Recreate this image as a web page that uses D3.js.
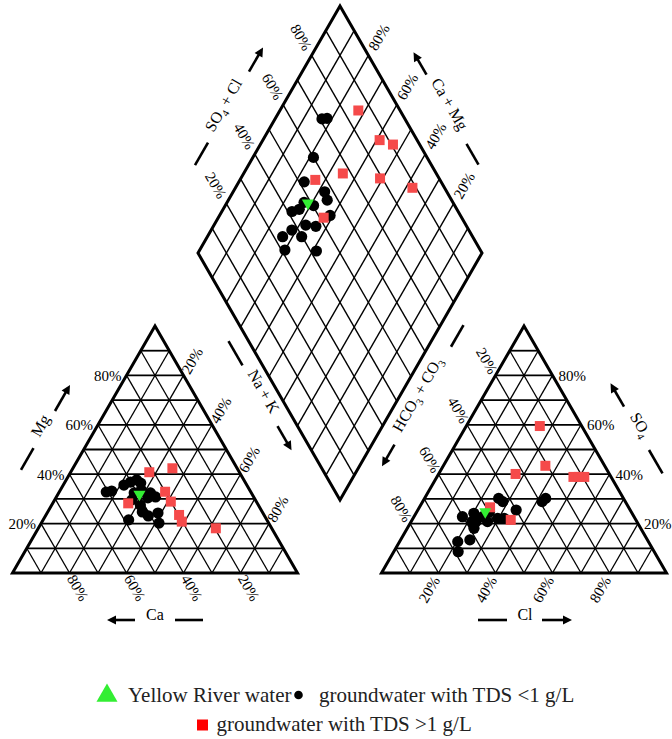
<!DOCTYPE html>
<html>
<head>
<meta charset="utf-8">
<script src="https://cdn.jsdelivr.net/npm/d3@7/dist/d3.min.js"></script>
<style>
  body { margin: 0; background: #fff; }
  svg { display: block; font-family: "Liberation Serif", "Times New Roman", Times, serif; }
</style>
</head>
<body>
<script>
// ---- Sample chemistry, meq % ----
// Groundwater with TDS < 1 g/L
const lowCa   = [50.7, 48.6, 43.1, 40.2, 37.6, 41.1, 36.8, 43.3, 38.0, 48.5, 41.4, 35.4, 37.3, 42.1, 34.4, 40.8, 36.8, 38.5];
const lowMg   = [32.8, 33.2, 35.6, 36.8, 37.7, 32.4, 36.4, 29.6, 33.6, 21.5, 27.5, 32.4, 30.4, 24.7, 30.8, 23.1, 24.3, 20.2];
const lowNaK  = [16.5, 18.2, 21.3, 23.0, 24.7, 26.5, 26.8, 27.1, 28.4, 30.0, 31.1, 32.2, 32.3, 33.2, 34.8, 36.1, 38.9, 41.3];
const lowHCO3 = [29.2, 27.3, 40.0, 48.2, 58.5, 66.9, 55.5, 52.4, 62.3, 68.8, 49.7, 43.0, 56.4, 60.2, 43.8, 53.1, 45.9, 57.9];
const lowSO4  = [28.9, 30.2, 25.5, 22.1, 18.1, 12.7, 24.2, 20.8, 13.4,  8.6, 24.8, 28.9, 20.8, 22.8, 30.2, 22.8, 22.1, 20.8];
const lowCl   = [41.9, 42.5, 34.5, 29.7, 23.4, 20.4, 20.3, 26.8, 24.3, 22.6, 25.5, 28.1, 22.8, 17.0, 26.0, 24.1, 32.0, 21.3];

// Groundwater with TDS > 1 g/L
const highCa   = [31.6, 45.3, 22.7, 30.0, 30.0, 29.8, 30.2, 19.6];
const highMg   = [40.8, 28.2, 42.4, 32.9, 28.9, 23.5, 20.8, 18.1];
const highNaK  = [27.6, 26.5, 34.9, 37.1, 41.1, 46.7, 49.0, 62.3];
const highHCO3 = [14.7, 43.9, 32.9, 48.6, 13.2,  9.4, 20.8, 11.3];
const highSO4  = [59.5, 21.5, 40.1, 26.6, 38.9, 38.9, 43.4, 38.9];
const highCl   = [25.8, 34.6, 27.0, 24.8, 47.9, 51.7, 35.8, 49.8];

// Yellow River water
const riverCa   = [39.5];
const riverMg   = [31.9];
const riverNaK  = [28.6];
const riverHCO3 = [51.2];
const riverSO4  = [24.8];
const riverCl   = [24.0];

const tickValues = [20, 40, 60, 80];
const tickLabels = ["20%", "40%", "60%", "80%"];
const gridSteps  = d3.range(10, 100, 10);

// ---- Layout ----
const WIDTH = 672, HEIGHT = 739;
const SIDE = 285, TRI_H = 247, BASE = 573;
const FONT = "'Liberation Serif', 'Times New Roman', Times, serif";

const svg = d3.select("body").append("svg")
  .attr("width", WIDTH).attr("height", HEIGHT)
  .style("font-family", FONT);
svg.append("rect").attr("width", WIDTH).attr("height", HEIGHT).attr("fill", "#fff");

// Scales: horizontal position along a triangle base, vertical height of the apex component
const catX = d3.scaleLinear().domain([0, 100]).range([12.5, 12.5 + SIDE]);
const anX  = d3.scaleLinear().domain([0, 100]).range([381.5, 381.5 + SIDE]);
const triY = d3.scaleLinear().domain([0, 100]).range([BASE, BASE - TRI_H]);
// Diamond: difference and sum of (SO4+Cl) and (Ca+Mg)
const diaX = d3.scaleLinear().domain([-100, 100]).range([198, 482]);
const diaY = d3.scaleLinear().domain([0, 200]).range([500, 6]);

const catPos = (naK, mg) => [catX(naK + mg / 2), triY(mg)];
const anPos  = (cl, so4) => [anX(cl + so4 / 2), triY(so4)];
const diaPos = (caMg, so4Cl) => [diaX(so4Cl - caMg), diaY(so4Cl + caMg)];

const line = d3.line();

// ---- Grids ----
function drawTriangle(pos) {
  const g = svg.append("g");
  gridSteps.forEach(k => {
    // constant apex component (horizontal)
    g.append("path").attr("d", line([pos(0, k), pos(100 - k, k)]))
      .attr("stroke", "#000").attr("stroke-width", 1.8).attr("fill", "none");
    // constant right-vertex component
    g.append("path").attr("d", line([pos(k, 0), pos(k, 100 - k)]))
      .attr("stroke", "#000").attr("stroke-width", 1.3).attr("fill", "none");
    // constant left-vertex component
    g.append("path").attr("d", line([pos(100 - k, 0), pos(0, 100 - k)]))
      .attr("stroke", "#000").attr("stroke-width", 1.3).attr("fill", "none");
  });
  g.append("path").attr("d", line([pos(0, 0), pos(100, 0), pos(0, 100)]) + "Z")
    .attr("stroke", "#000").attr("stroke-width", 3).attr("fill", "none")
    .attr("stroke-linejoin", "miter");
}

function drawDiamond() {
  const g = svg.append("g");
  gridSteps.forEach(k => {
    g.append("path").attr("d", line([diaPos(k, 0), diaPos(k, 100)]))
      .attr("stroke", "#000").attr("stroke-width", 1.4).attr("fill", "none");
    g.append("path").attr("d", line([diaPos(0, k), diaPos(100, k)]))
      .attr("stroke", "#000").attr("stroke-width", 1.4).attr("fill", "none");
  });
  g.append("path").attr("d", line([diaPos(100, 0), diaPos(100, 100), diaPos(0, 100), diaPos(0, 0)]) + "Z")
    .attr("stroke", "#000").attr("stroke-width", 3).attr("fill", "none");
}

drawTriangle(catPos);
drawTriangle(anPos);
drawDiamond();

// ---- Tick labels ----
const labels = svg.append("g").attr("font-size", 15).attr("fill", "#000");

function rotatedLabel(p, dx, dy, angle, txt) {
  labels.append("text")
    .attr("transform", `translate(${p[0] + dx},${p[1] + dy}) rotate(${angle})`)
    .attr("text-anchor", "middle").attr("dy", "0.35em")
    .text(txt);
}

tickValues.forEach((v, i) => {
  const t = tickLabels[i];
  // Mg (left edge of cation triangle)
  const pm = catPos(0, v);
  labels.append("text").attr("x", pm[0] - 5).attr("y", pm[1] + 5.5)
    .attr("text-anchor", "end").text(t);
  // Na + K (right edge of cation triangle)
  rotatedLabel(catPos(v, 100 - v), 8.5, -14.7, -60, t);
  // Ca (base of cation triangle)
  rotatedLabel(catPos(100 - v, 0), 8.5, 14.7, 60, t);
  // SO4 (right edge of anion triangle)
  const ps = anPos(100 - v, v);
  labels.append("text").attr("x", ps[0] + 6).attr("y", ps[1] + 5.5)
    .attr("text-anchor", "start").text(t);
  // HCO3 + CO3 (left edge of anion triangle)
  rotatedLabel(anPos(0, 100 - v), -8.5, -14.7, 60, t);
  // Cl (base of anion triangle)
  rotatedLabel(anPos(v, 0), -9.5, 16.5, -60, t);
  // SO4 + Cl (upper-left edge of diamond)
  rotatedLabel(diaPos(100, v), -10.5, -18.2, 60, t);
  // Ca + Mg (upper-right edge of diamond)
  rotatedLabel(diaPos(v, 100), 10.5, -18.2, -60, t);
});

// ---- Axis titles with dash and arrow ----
function axisTitle(cx, cy, angle, parts, dash, arrow) {
  const g = svg.append("g").attr("transform", `translate(${cx},${cy}) rotate(${angle})`);
  const txt = g.append("text").attr("text-anchor", "middle").attr("dy", "0.35em")
    .attr("font-size", 16);
  parts.forEach(p => {
    if (p.sub) {
      txt.append("tspan").attr("font-size", 10.5).attr("dy", 4).text(p.t);
    } else {
      txt.append("tspan").attr("dy", p.after ? -4 : 0).text(p.t);
    }
  });
  g.append("line").attr("x1", dash[0]).attr("x2", dash[1]).attr("y1", 0).attr("y2", 0)
    .attr("stroke", "#000").attr("stroke-width", 2.6);
  const dir = Math.sign(arrow[1] - arrow[0]);
  const headLen = 9, headHalf = 4.5;
  g.append("line").attr("x1", arrow[0]).attr("x2", arrow[1] - dir * headLen + dir)
    .attr("y1", 0).attr("y2", 0).attr("stroke", "#000").attr("stroke-width", 2.6);
  g.append("path")
    .attr("d", line([[arrow[1], 0], [arrow[1] - dir * headLen, -headHalf], [arrow[1] - dir * headLen, headHalf]]) + "Z")
    .attr("fill", "#000");
}

axisTitle(45, 428.3, -60, [{t: "Mg"}], [-48, -23], [20, 50]);
axisTitle(259, 394, 60, [{t: "Na + K"}], [-61, -33], [37, 65]);
axisTitle(155, 620, 0, [{t: "Ca"}], [20, 48], [-20, -48]);
axisTitle(525, 620, 0, [{t: "Cl"}], [-47, -18], [17, 47]);
axisTitle(422, 397, -60,
  [{t: "HCO"}, {t: "3", sub: true}, {t: " + CO", after: true}, {t: "3", sub: true}],
  [58, 83], [-55, -80]);
axisTitle(228, 108, -60,
  [{t: "SO"}, {t: "4", sub: true}, {t: " + Cl", after: true}],
  [-66, -40], [42, 70]);
axisTitle(445, 106.7, 60, [{t: "Ca + Mg"}], [43, 67], [-37, -63]);
axisTitle(636, 427.5, 60, [{t: "SO"}, {t: "4", sub: true}], [26, 53], [-24, -51]);

// ---- Samples ----
const RED = "#f54a4a", GREEN = "#33ee33";
function samples(ca, mg, naK, hco3, so4, cl) {
  return ca.map((_, i) => ({
    ca: ca[i], mg: mg[i], naK: naK[i], hco3: hco3[i], so4: so4[i], cl: cl[i]
  }));
}
const lowData   = samples(lowCa, lowMg, lowNaK, lowHCO3, lowSO4, lowCl);
const highData  = samples(highCa, highMg, highNaK, highHCO3, highSO4, highCl);
const riverData = samples(riverCa, riverMg, riverNaK, riverHCO3, riverSO4, riverCl);

const projections = [
  d => catPos(d.naK, d.mg),
  d => anPos(d.cl, d.so4),
  d => diaPos(d.ca + d.mg, d.so4 + d.cl)
];

const marks = svg.append("g");
projections.forEach(proj => {
  marks.append("g").selectAll("circle").data(lowData).join("circle")
    .attr("cx", d => proj(d)[0]).attr("cy", d => proj(d)[1])
    .attr("r", 5.6).attr("fill", "#000");
});
const squareSym = d3.symbol(d3.symbolSquare, 100);
projections.forEach(proj => {
  marks.append("g").selectAll("path").data(highData).join("path")
    .attr("d", squareSym)
    .attr("transform", d => `translate(${proj(d)[0]},${proj(d)[1]})`)
    .attr("fill", RED);
});
const triSym = d3.symbol(d3.symbolTriangle, 64);
projections.forEach(proj => {
  marks.append("g").selectAll("path").data(riverData).join("path")
    .attr("d", triSym)
    .attr("transform", d => `translate(${proj(d)[0]},${proj(d)[1]}) rotate(180)`)
    .attr("fill", GREEN);
});

// ---- Legend ----
const legend = svg.append("g").attr("font-size", 21).attr("fill", "#222");
legend.append("path").attr("d", d3.symbol(d3.symbolTriangle, 192))
  .attr("transform", "translate(107,695.6)").attr("fill", GREEN);
legend.append("text").attr("x", 128).attr("y", 702).text("Yellow River water");
legend.append("circle").attr("cx", 298.5).attr("cy", 695).attr("r", 4.3).attr("fill", "#000");
legend.append("text").attr("x", 319).attr("y", 702).text("groundwater with TDS <1 g/L");
legend.append("path").attr("d", d3.symbol(d3.symbolSquare, 121))
  .attr("transform", "translate(202.5,725)").attr("fill", "#f00");
legend.append("text").attr("x", 216.5).attr("y", 731).text("groundwater with TDS >1 g/L");
</script>
</body>
</html>
